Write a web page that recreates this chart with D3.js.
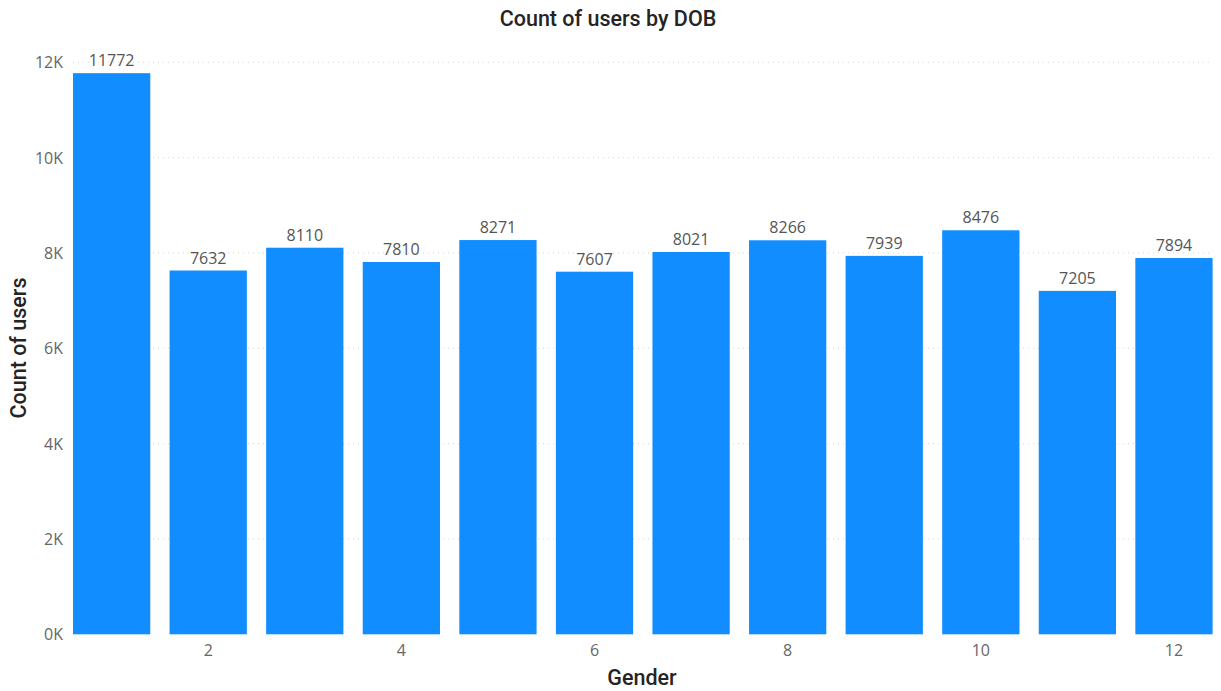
<!DOCTYPE html>
<html><head><meta charset="utf-8">
<script src="https://cdn.jsdelivr.net/npm/d3@7/dist/d3.min.js"></script>
<style>body{margin:0;background:#fff;}svg{display:block;}</style>
</head><body>
<svg id="c" width="1221" height="691"></svg>
<script>
const categories = [1,2,3,4,5,6,7,8,9,10,11,12];
const values = [11772,7632,8110,7810,8271,7607,8021,8266,7939,8476,7205,7894];
const xTickLabels = [2,4,6,8,10,12];
const yTicks = [0,2000,4000,6000,8000,10000,12000];

const svg = d3.select('#c');
const font = "'Open Sans','Noto Sans',sans-serif";
const tfont = "'Roboto','DejaVu Sans',sans-serif";
const x = d3.scaleBand().domain(categories).range([73,1212.6]).paddingInner(0.2).paddingOuter(0);
const y = d3.scaleLinear().domain([0,12000]).range([634.3,62.3]);

// gridlines
svg.append('g').selectAll('line').data(yTicks.slice(1)).join('line')
  .attr('x1',73).attr('x2',1212).attr('y1',d=>y(d)).attr('y2',d=>y(d))
  .attr('stroke','#d4d4d4').attr('stroke-width',1).attr('stroke-dasharray','1,4');

// y axis
const yAxis = d3.axisLeft(y).tickValues(yTicks).tickFormat(d=>(d/1000)+'K').tickSize(0).tickPadding(0);
const yg = svg.append('g').attr('transform','translate(63,0)').call(yAxis);
yg.select('.domain').remove();
yg.selectAll('text').attr('font-family',font).attr('font-size',16).attr('fill','#666').attr('dy','0.34em');

// x axis
const xAxis = d3.axisBottom(x).tickValues(xTickLabels).tickSize(0).tickPadding(0);
const xg = svg.append('g').attr('transform','translate(0,656)').call(xAxis);
xg.select('.domain').remove();
xg.selectAll('text').attr('font-family',font).attr('font-size',16).attr('fill','#666').attr('y',0).attr('dy','0');

// bars
svg.append('g').selectAll('rect').data(categories).join('rect')
  .attr('x',d=>x(d)).attr('width',x.bandwidth())
  .attr('y',(d,i)=>y(values[i])).attr('height',(d,i)=>y(0)-y(values[i]))
  .attr('fill','#118DFF');

// data labels
svg.append('g').selectAll('text').data(categories).join('text')
  .attr('x',d=>x(d)+x.bandwidth()/2).attr('y',(d,i)=>y(values[i])-7)
  .attr('text-anchor','middle').attr('font-family',font).attr('font-size',16).attr('fill','#555')
  .text((d,i)=>values[i]);

// title
svg.append('text').attr('x',608).attr('y',26).attr('text-anchor','middle')
  .attr('font-family',tfont).attr('font-weight',500).attr('font-size',21.5).attr('fill','#252423')
  .text('Count of users by DOB');

// axis titles
svg.append('text').attr('transform','translate(26,348) rotate(-90)').attr('text-anchor','middle')
  .attr('font-family',tfont).attr('font-weight',500).attr('font-size',21.5).attr('fill','#252423')
  .text('Count of users');
svg.append('text').attr('x',642).attr('y',685).attr('text-anchor','middle')
  .attr('font-family',tfont).attr('font-weight',500).attr('font-size',21.5).attr('fill','#252423')
  .text('Gender');
</script>
</body></html>
